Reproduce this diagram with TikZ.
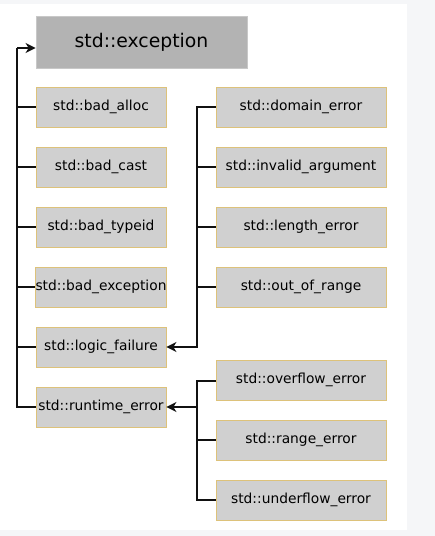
\documentclass[tikz,border=0pt]{standalone}
\usepackage{fontspec}
\setmainfont{DejaVu Sans}
\usetikzlibrary{arrows.meta}
\definecolor{bgout}{HTML}{F5F6F8}
\definecolor{excfill}{HTML}{B3B3B3}
\definecolor{excline}{HTML}{C8C8C8}
\definecolor{boxfill}{HTML}{D0D0D0}
\definecolor{boxline}{HTML}{DDC27A}
\definecolor{linecol}{HTML}{111111}
\begin{document}
\begin{tikzpicture}[x=1pt,y=-1pt,
  excbox/.style={draw=excline, fill=excfill, line width=0.8pt, minimum width=211pt, minimum height=52pt, inner sep=0pt, font=\fontsize{18.8}{22}\selectfont},
  lbox/.style={draw=boxline, fill=boxfill, line width=0.8pt, minimum width=130pt, minimum height=40pt, inner sep=0pt, font=\fontsize{13.8}{16}\selectfont},
  rbox/.style={lbox, minimum width=170pt},
  conn/.style={draw=linecol, line width=1.7pt},
  arr/.style={conn, -{Stealth[length=10pt,width=10pt,inset=3pt]}}
]
\fill[bgout] (0,0) rectangle (435,536);
\fill[white] (0,4) rectangle (407,530);
\useasboundingbox (0,0) rectangle (435,536);

\node[excbox] (exc) at (141.5,42) {std::exception};

\node[lbox] (alloc) at (101,107) {std::bad\_alloc};
\node[lbox] (cast) at (101,167) {std::bad\_cast};
\node[lbox] (typeid) at (101,227) {std::bad\_typeid};
\node[lbox] (bexc) at (101,287) {std::bad\_exception};
\node[lbox] (logic) at (101,347) {std::logic\_failure};
\node[lbox] (runtime) at (101,407) {std::runtime\_error};

\node[rbox] (domain) at (301,107) {std::domain\_error};
\node[rbox] (invalid) at (301,167) {std::invalid\_argument};
\node[rbox] (length) at (301,227) {std::length\_error};
\node[rbox] (range1) at (301,287) {std::out\_of\_range};

\node[rbox] (over) at (301,380) {std::overflow\_error};
\node[rbox] (range2) at (301,440) {std::range\_error};
\node[rbox] (under) at (301,500) {std::underflow\_error};

% left trunk
\coordinate (ltop) at (17,48);
\coordinate (lbot) at (17,407);
\draw[conn] (runtime.west) -- (lbot) -- (ltop);
\draw[arr] (ltop) -- (ltop -| exc.west);
\foreach \n in {alloc,cast,typeid,bexc,logic}
  \draw[conn] (\n.west) -- (\n.west -| ltop);

% upper right trunk
\coordinate (ut) at (197,107);
\coordinate (ub) at (197,347);
\draw[arr] (domain.west) -- (ut) -- (ub) -- (logic.east);
\foreach \n in {invalid,length,range1}
  \draw[conn] (\n.west) -- (\n.west -| ut);

% lower right trunk
\coordinate (lt2) at (197,381);
\coordinate (lb2) at (197,500);
\draw[conn] (over.west |- lt2) -- (lt2) -- (lb2) -- (under.west);
\draw[conn] (range2.west) -- (range2.west -| lt2);
\draw[arr] (runtime.east -| lt2) -- (runtime.east);
\end{tikzpicture}
\end{document}
